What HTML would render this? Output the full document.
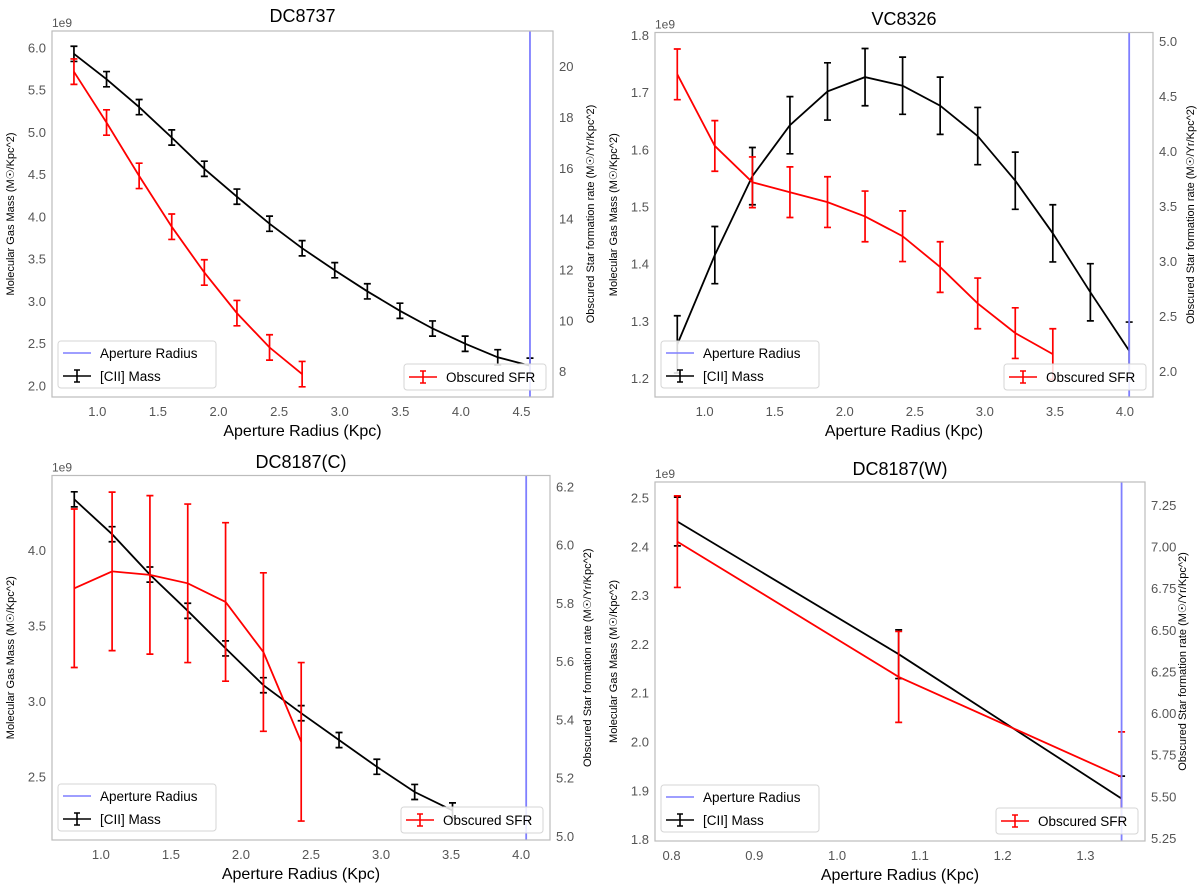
<!DOCTYPE html>
<html><head><meta charset="utf-8">
<style>
body{margin:0;background:#fff;}
svg{display:block;font-family:"Liberation Sans","DejaVu Sans",sans-serif;}
</style></head>
<body>
<svg id="fig" width="1200" height="886" viewBox="0 0 1200 886" xmlns="http://www.w3.org/2000/svg"></svg>
<script>
// ---- Panel 1: DC8737 ----
const p1X = [0.807,1.076,1.345,1.614,1.883,2.152,2.421,2.690,2.959,3.228,3.497,3.766,4.035,4.304,4.57];
const p1Mass = [5.93,5.63,5.30,4.94,4.57,4.24,3.92,3.63,3.37,3.12,2.89,2.68,2.50,2.34,2.24];
const p1MassErr = [0.09,0.09,0.09,0.09,0.09,0.09,0.09,0.09,0.09,0.09,0.09,0.09,0.09,0.09,0.09];
const p1SfrX = [0.807,1.076,1.345,1.614,1.883,2.152,2.421,2.690];
const p1Sfr = [19.8,17.8,15.7,13.7,11.9,10.3,8.95,7.9];
const p1SfrErr = [0.5,0.5,0.5,0.5,0.5,0.5,0.5,0.5];
const p1XTicks = [1.0,1.5,2.0,2.5,3.0,3.5,4.0,4.5];
const p1YTicks = [2.0,2.5,3.0,3.5,4.0,4.5,5.0,5.5,6.0];
const p1Y2Ticks = [8,10,12,14,16,18,20];
// ---- Panel 2: VC8326 ----
const p2X = [0.805,1.073,1.341,1.609,1.877,2.145,2.413,2.681,2.949,3.217,3.485,3.753,4.03];
const p2Mass = [1.260,1.416,1.554,1.643,1.702,1.727,1.712,1.677,1.624,1.546,1.454,1.351,1.249];
const p2MassErr = [0.05,0.05,0.05,0.05,0.05,0.05,0.05,0.05,0.05,0.05,0.05,0.05,0.05];
const p2SfrX = [0.805,1.073,1.341,1.609,1.877,2.145,2.413,2.681,2.949,3.217,3.485];
const p2Sfr = [4.70,4.05,3.72,3.63,3.54,3.41,3.23,2.95,2.62,2.35,2.16];
const p2SfrErr = [0.23,0.23,0.23,0.23,0.23,0.23,0.23,0.23,0.23,0.23,0.23];
const p2XTicks = [1.0,1.5,2.0,2.5,3.0,3.5,4.0];
const p2YTicks = [1.2,1.3,1.4,1.5,1.6,1.7,1.8];
const p2Y2Ticks = [2.0,2.5,3.0,3.5,4.0,4.5,5.0];
// ---- Panel 3: DC8187(C) ----
const p3X = [0.81,1.08,1.35,1.62,1.89,2.16,2.43,2.70,2.97,3.24,3.51];
const p3Mass = [4.338,4.107,3.84,3.60,3.351,3.107,2.922,2.744,2.567,2.40,2.278];
const p3MassErr = [0.05,0.05,0.05,0.05,0.05,0.05,0.05,0.05,0.05,0.05,0.05];
const p3SfrX = [0.81,1.08,1.35,1.62,1.89,2.16,2.43];
const p3Sfr = [5.852,5.910,5.898,5.869,5.805,5.633,5.325];
const p3SfrErr = [0.272,0.272,0.272,0.272,0.272,0.272,0.272];
const p3XTicks = [1.0,1.5,2.0,2.5,3.0,3.5,4.0];
const p3YTicks = [2.5,3.0,3.5,4.0];
const p3Y2Ticks = [5.0,5.2,5.4,5.6,5.8,6.0,6.2];
// ---- Panel 4: DC8187(W) ----
const p4X = [0.807,1.0744,1.3437];
const p4Mass = [2.452,2.180,1.884];
const p4MassErr = [0.05,0.05,0.046];
const p4SfrX = [0.807,1.0744,1.3437];
const p4Sfr = [7.032,6.220,5.620];
const p4SfrErr = [0.275,0.273,0.27];
const p4XTicks = [0.8,0.9,1.0,1.1,1.2,1.3];
const p4YTicks = [1.8,1.9,2.0,2.1,2.2,2.3,2.4,2.5];
const p4Y2Ticks = [5.25,5.50,5.75,6.00,6.25,6.50,6.75,7.00,7.25];

const NS = "http://www.w3.org/2000/svg";
const fig = document.getElementById('fig');
function mk(tag, attrs, parent){
  const e = document.createElementNS(NS, tag);
  for (const k in attrs) e.setAttribute(k, attrs[k]);
  (parent||fig).appendChild(e);
  return e;
}

const panels = [
  {key:'dc8737', title:'DC8737', L:52, R:553, T:31, B:397, xmin:0.626, xmax:4.76, ymin:1.87, ymax:6.2, y2min:7.0, y2max:21.4,
   aperture:4.57, X:p1X, M:p1Mass, ME:p1MassErr, SX:p1SfrX, S:p1Sfr, SE:p1SfrErr, xt:p1XTicks, yt:p1YTicks, y2t:p1Y2Ticks, xdec:1, ydec:1, y2dec:0, titleY:22},
  {key:'vc8326', title:'VC8326', L:655, R:1153, T:32.5, B:397, xmin:0.646, xmax:4.2, ymin:1.168, ymax:1.805, y2min:1.77, y2max:5.08,
   aperture:4.03, X:p2X, M:p2Mass, ME:p2MassErr, SX:p2SfrX, S:p2Sfr, SE:p2SfrErr, xt:p2XTicks, yt:p2YTicks, y2t:p2Y2Ticks, xdec:1, ydec:1, y2dec:1, titleY:25},
  {key:'dc8187c', title:'DC8187(C)', L:52, R:550, T:475.5, B:840, xmin:0.651, xmax:4.206, ymin:2.082, ymax:4.496, y2min:4.988, y2max:6.239,
   aperture:4.036, X:p3X, M:p3Mass, ME:p3MassErr, SX:p3SfrX, S:p3Sfr, SE:p3SfrErr, xt:p3XTicks, yt:p3YTicks, y2t:p3Y2Ticks, xdec:1, ydec:1, y2dec:1, titleY:468},
  {key:'dc8187w', title:'DC8187(W)', L:655, R:1145, T:482, B:841, xmin:0.780, xmax:1.372, ymin:1.797, ymax:2.533, y2min:5.235, y2max:7.39,
   aperture:1.3437, X:p4X, M:p4Mass, ME:p4MassErr, SX:p4SfrX, S:p4Sfr, SE:p4SfrErr, xt:p4XTicks, yt:p4YTicks, y2t:p4Y2Ticks, xdec:1, ydec:1, y2dec:2, titleY:475}
];

panels.forEach(function(p){
  const g = mk('g', {});
  
  
  const sx = v => p.L + (v - p.xmin) / (p.xmax - p.xmin) * (p.R - p.L);
  const sy = v => p.B - (v - p.ymin) / (p.ymax - p.ymin) * (p.B - p.T);
  const sy2 = v => p.B - (v - p.y2min) / (p.y2max - p.y2min) * (p.B - p.T);
  const cx = (p.L + p.R) / 2;
  const cy = (p.T + p.B) / 2;

  const clipId = 'clip-' + p.key;
  const cp = mk('clipPath', {id: clipId}, g);
  mk('rect', {x:p.L, y:p.T, width:p.R-p.L, height:p.B-p.T}, cp);

  const title = mk('text', {x:cx, y:p.titleY, 'text-anchor':'middle', 'font-size':18, fill:'#000'}, g);
  title.textContent = p.title;
  
  

  const sci = mk('text', {x:p.L, y:p.T-4, 'font-size':12, fill:'#555'}, g);
  sci.textContent = '1e9';
  
  

  p.xt.forEach(function(t){
    const e = mk('text', {x:sx(t), y:p.B+19, 'text-anchor':'middle', 'font-size':13, fill:'#555'}, g);
    e.textContent = t.toFixed(p.xdec);
    
    
  });
  p.yt.forEach(function(t){
    const e = mk('text', {x:p.L-6, y:sy(t)+4.5, 'text-anchor':'end', 'font-size':13, fill:'#555'}, g);
    e.textContent = t.toFixed(p.ydec);
    
    
  });
  p.y2t.forEach(function(t){
    const e = mk('text', {x:p.R+6, y:sy2(t)+4.5, 'text-anchor':'start', 'font-size':13, fill:'#555'}, g);
    e.textContent = t.toFixed(p.y2dec);
    
    
  });

  const xl = mk('text', {x:cx, y:p.B+39, 'text-anchor':'middle', 'font-size':16, fill:'#000'}, g);
  xl.textContent = 'Aperture Radius (Kpc)';
  
  

  const yl = mk('text', {x:0, y:0, 'text-anchor':'middle', 'font-size':11, fill:'#000', transform:'translate(' + (p.L-38) + ',' + cy + ') rotate(-90)'}, g);
  yl.textContent = 'Molecular Gas Mass (M\u2609/Kpc^2)';
  
  

  const y2l = mk('text', {x:0, y:0, 'text-anchor':'middle', 'font-size':11, fill:'#000', transform:'translate(' + (p.R+41) + ',' + cy + ') rotate(-90)'}, g);
  y2l.textContent = 'Obscured Star formation rate (M\u2609/Yr/Kpc^2)';
  
  

  const plot = mk('g', {'clip-path':'url(#' + clipId + ')'}, g);

  let d = '';
  p.X.forEach(function(x, i){ d += (i ? 'L' : 'M') + sx(x).toFixed(1) + ',' + sy(p.M[i]).toFixed(1); });
  const ml = mk('path', {d:d, fill:'none', stroke:'#000', 'stroke-width':1.8}, plot);
  
  
  p.X.forEach(function(x, i){
    const px = sx(x), y1 = sy(p.M[i] + p.ME[i]), y2 = sy(p.M[i] - p.ME[i]);
    const eb = mk('path', {d:'M'+px+','+y1+'V'+y2+'M'+(px-3.5)+','+y1+'h7M'+(px-3.5)+','+y2+'h7', stroke:'#000', 'stroke-width':1.7, fill:'none'}, plot);
    
    
  });

  d = '';
  p.SX.forEach(function(x, i){ d += (i ? 'L' : 'M') + sx(x).toFixed(1) + ',' + sy2(p.S[i]).toFixed(1); });
  const sl = mk('path', {d:d, fill:'none', stroke:'#ff0000', 'stroke-width':1.8}, plot);
  
  
  p.SX.forEach(function(x, i){
    const px = sx(x), y1 = sy2(p.S[i] + p.SE[i]), y2 = sy2(p.S[i] - p.SE[i]);
    const eb = mk('path', {d:'M'+px+','+y1+'V'+y2+'M'+(px-3.5)+','+y1+'h7M'+(px-3.5)+','+y2+'h7', stroke:'#ff0000', 'stroke-width':1.7, fill:'none'}, plot);
    
    
  });

  const al = mk('line', {x1:sx(p.aperture), x2:sx(p.aperture), y1:p.T, y2:p.B, stroke:'#7f7fff', 'stroke-width':1.8}, plot);
  
  

  const fr = mk('rect', {x:p.L, y:p.T, width:p.R-p.L, height:p.B-p.T, fill:'none', stroke:'#bcbcbc', 'stroke-width':1.2}, g);
  
  

  const lg = mk('g', {}, g);
  
  
  const lx = p.L + 6, ly = p.B - 56;
  mk('rect', {x:lx, y:ly, width:158, height:47, rx:3, fill:'#fff', 'fill-opacity':0.85, stroke:'#d6d6d6'}, lg);
  mk('line', {x1:lx+5, x2:lx+33, y1:ly+12, y2:ly+12, stroke:'#7f7fff', 'stroke-width':1.6}, lg);
  const t1 = mk('text', {x:lx+42, y:ly+17, 'font-size':13.5, fill:'#000'}, lg);
  t1.textContent = 'Aperture Radius';
  
  
  mk('path', {d:'M'+(lx+5)+','+(ly+35)+'h28M'+(lx+19)+','+(ly+29)+'v12M'+(lx+16)+','+(ly+29)+'h6M'+(lx+16)+','+(ly+41)+'h6', stroke:'#000', 'stroke-width':1.6, fill:'none'}, lg);
  const t2 = mk('text', {x:lx+42, y:ly+40, 'font-size':13.5, fill:'#000'}, lg);
  t2.textContent = '[CII] Mass';
  
  

  const rg = mk('g', {}, g);
  
  
  const rx = p.R - 149, ry = p.B - 33;
  mk('rect', {x:rx, y:ry, width:142, height:26, rx:3, fill:'#fff', 'fill-opacity':0.85, stroke:'#d6d6d6'}, rg);
  mk('path', {d:'M'+(rx+5)+','+(ry+13)+'h28M'+(rx+19)+','+(ry+7)+'v12M'+(rx+16)+','+(ry+7)+'h6M'+(rx+16)+','+(ry+19)+'h6', stroke:'#ff0000', 'stroke-width':1.6, fill:'none'}, rg);
  const t3 = mk('text', {x:rx+42, y:ry+18, 'font-size':13.5, fill:'#000'}, rg);
  t3.textContent = 'Obscured SFR';
  
  
});
</script>
</body></html>
